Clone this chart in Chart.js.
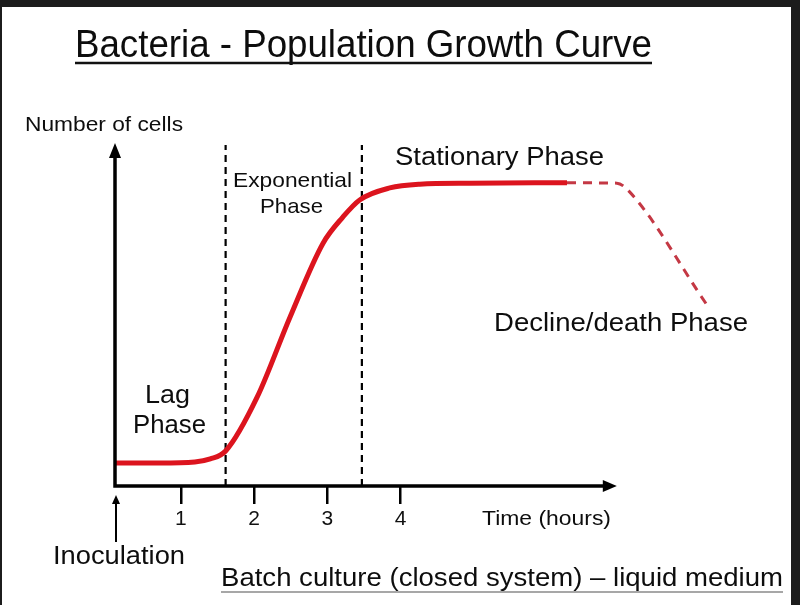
<!DOCTYPE html>
<html>
<head>
<meta charset="utf-8">
<title>Bacteria - Population Growth Curve</title>
<script src="https://cdn.jsdelivr.net/npm/chart.js@4.4.1/dist/chart.umd.min.js"></script>
<style>
  html, body { margin: 0; padding: 0; background: #fff; }
  #frame {
    position: absolute; left: 0; top: 0; width: 800px; height: 605px; box-sizing: border-box;
    border-top: 7px solid #1c1c1c; border-left: 2px solid #1c1c1c; border-right: 9px solid #1c1c1c;
  }
  #growthChart { position: absolute; left: 0; top: 0; }
</style>
</head>
<body>
<div id="frame"></div>
<canvas id="growthChart" width="800" height="605"></canvas>
<script>
// data (x = hours, y = relative number of cells)
const growthX = [0.1, 0.71, 1.19, 1.40, 1.61, 2.04, 2.49, 2.94, 3.21, 3.44, 3.85, 4.26, 4.94, 6.27];
const growthY = [6.7, 6.7, 7.0, 7.9, 10.2, 25.9, 49.3, 70.8, 78.4, 83.4, 86.9, 88.0, 88.3, 88.4];
const declineX = [6.27, 6.95, 7.10, 8.18];
const declineY = [88.4, 88.3, 86.3, 52.8];
const phaseBounds = [1.61, 3.47];
const tickHours = [1, 2, 3, 4];

const xMin = 0.1, xMax = 9, xAxisEnd = 6.95;
const yMax = 100, boundTop = 99.4;

function pairs(xs, ys) {
    return xs.map((x, i) => ({ x: x, y: ys[i] }));
}

// text squeezed/stretched to the width it has in the picture
function fitText(ctx, text, left, baseline, size, width) {
    ctx.font = size + 'px "Liberation Sans", Arial, sans-serif';
    const w = ctx.measureText(text).width;
    ctx.save();
    ctx.translate(left, baseline);
    ctx.scale(width / w, 1);
    ctx.textAlign = 'left';
    ctx.textBaseline = 'alphabetic';
    ctx.fillText(text, 0, 0);
    ctx.restore();
}

function arrowHead(ctx, tipX, tipY, dx, dy, len, half) {
    // dx,dy = unit direction the arrow points to
    const bx = tipX - dx * len, by = tipY - dy * len;
    ctx.beginPath();
    ctx.moveTo(tipX, tipY);
    ctx.lineTo(bx - dy * half, by + dx * half);
    ctx.lineTo(bx + dy * half, by - dx * half);
    ctx.closePath();
    ctx.fill();
}

const labelsPlugin = {
    id: 'growthLabels',
    afterDraw(chart) {
        const ctx = chart.ctx;
        const xs = chart.scales.x, ys = chart.scales.y;
        const x0 = xs.getPixelForValue(xMin);
        const y0 = ys.getPixelForValue(0);
        const xEnd = xs.getPixelForValue(xAxisEnd);
        const yTop = ys.getPixelForValue(yMax);

        ctx.save();
        ctx.strokeStyle = '#000';
        ctx.fillStyle = '#000';

        // axes with arrows
        ctx.lineWidth = 3.5;
        ctx.beginPath();
        ctx.moveTo(x0, yTop + 10);
        ctx.lineTo(x0, y0);
        ctx.lineTo(xEnd - 10, y0);
        ctx.stroke();
        arrowHead(ctx, x0, yTop, 0, -1, 15, 6);
        arrowHead(ctx, xEnd, y0, 1, 0, 14, 6);

        // inoculation arrow
        ctx.lineWidth = 2;
        ctx.beginPath();
        ctx.moveTo(x0 + 1, 542);
        ctx.lineTo(x0 + 1, 502);
        ctx.stroke();
        arrowHead(ctx, x0 + 1, 495, 0, -1, 9, 4);

        // texts
        ctx.fillStyle = '#0d0d0d';
        fitText(ctx, 'Bacteria - Population Growth Curve', 75, 57, 38, 577);
        ctx.lineWidth = 2.5;
        ctx.strokeStyle = '#111';
        ctx.beginPath();
        ctx.moveTo(75, 63);
        ctx.lineTo(652, 63);
        ctx.stroke();

        fitText(ctx, 'Number of cells', 25, 131, 21, 158);
        fitText(ctx, 'Exponential', 233, 187, 21, 119);
        fitText(ctx, 'Phase', 260, 213, 21, 63);
        fitText(ctx, 'Stationary Phase', 395, 165, 26, 209);
        fitText(ctx, 'Decline/death Phase', 494, 331, 26, 254);
        fitText(ctx, 'Lag', 145, 403, 26, 45);
        fitText(ctx, 'Phase', 133, 433, 26, 73);
        fitText(ctx, 'Time (hours)', 482, 525, 21, 129);
        fitText(ctx, 'Inoculation', 53, 564, 25, 132);
        fitText(ctx, 'Batch culture (closed system) \u2013 liquid medium', 221, 586, 26, 562);
        ctx.lineWidth = 1.5;
        ctx.strokeStyle = '#8a8a8a';
        ctx.beginPath();
        ctx.moveTo(221, 592);
        ctx.lineTo(783, 592);
        ctx.stroke();

        ctx.restore();
    }
};

const datasets = [
    {
        label: 'Growth',
        data: pairs(growthX, growthY),
        borderColor: 'rgb(220, 20, 30)',
        borderWidth: 5,
        cubicInterpolationMode: 'monotone',
        pointRadius: 0,
        fill: false
    },
    {
        label: 'Decline',
        data: pairs(declineX, declineY),
        borderColor: 'rgb(196, 56, 68)',
        borderWidth: 3,
        borderDash: [9, 7],
        cubicInterpolationMode: 'monotone',
        pointRadius: 0,
        fill: false
    }
];

phaseBounds.forEach(function(b) {
    datasets.push({
        label: 'bound ' + b,
        data: [{ x: b, y: 0 }, { x: b, y: boundTop }],
        borderColor: '#000',
        borderWidth: 2.2,
        borderDash: [7, 5],
        pointRadius: 0,
        fill: false
    });
});

const ctx = document.getElementById('growthChart').getContext('2d');
const growthChart = new Chart(ctx, {
    type: 'line',
    data: { datasets: datasets },
    plugins: [labelsPlugin],
    options: {
        responsive: false,
        animation: false,
        layout: { padding: { left: 115, right: 33, top: 143, bottom: 79 } },
        plugins: {
            legend: { display: false },
            tooltip: { enabled: false }
        },
        scales: {
            x: {
                type: 'linear',
                min: xMin,
                max: xMax,
                afterBuildTicks: function(scale) {
                    scale.ticks = tickHours.map(v => ({ value: v }));
                },
                afterFit: function(scale) {
                    scale.height = 40;
                },
                border: { display: false },
                grid: {
                    drawOnChartArea: false,
                    drawTicks: true,
                    tickLength: 18,
                    color: '#000',
                    lineWidth: 2.5
                },
                ticks: {
                    color: '#111',
                    padding: 3,
                    maxRotation: 0,
                    font: { family: '"Liberation Sans", Arial, sans-serif', size: 21 }
                }
            },
            y: {
                type: 'linear',
                display: false,
                min: 0,
                max: yMax
            }
        }
    }
});
</script>
</body>
</html>
